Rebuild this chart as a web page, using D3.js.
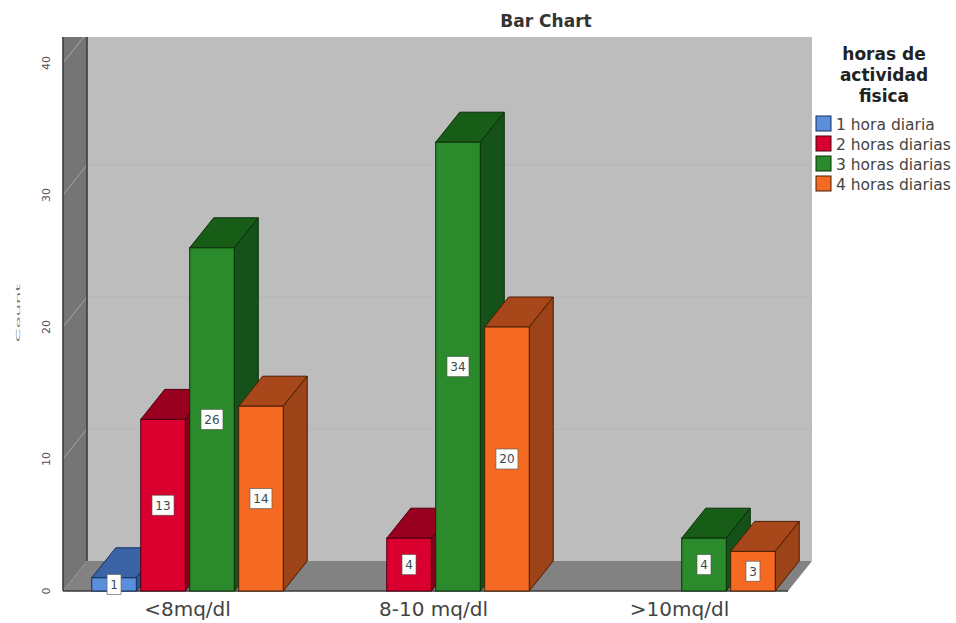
<!DOCTYPE html>
<html>
<head>
<meta charset="utf-8">
<style>
  html, body { margin: 0; padding: 0; background: #fff; }
  svg { display: block; }
</style>
<script src="https://cdn.jsdelivr.net/npm/d3@7/dist/d3.min.js"></script>
</head>
<body>
<svg id="chart" width="956" height="623"></svg>
<script>
// Counts of people per glucose range, split by daily hours of physical activity
const categories = ["<8mq/dl", "8-10 mq/dl", ">10mq/dl"];
const seriesNames = ["1 hora diaria", "2 horas diarias", "3 horas diarias", "4 horas diarias"];
const unoHora = [1, null, null];
const dosHoras = [13, 4, null];
const tresHoras = [26, 34, 4];
const cuatroHoras = [14, 20, 3];
const seriesValues = [unoHora, dosHoras, tresHoras, cuatroHoras];
const yTicks = [0, 10, 20, 30, 40];

const frontColors = ["#5b8fdc", "#d9002f", "#2b8a2b", "#f46a22"];
const topColors = ["#3a64a6", "#99001f", "#175c17", "#a8481a"];
const sideColors = ["#2f5590", "#7f0018", "#14521a", "#9c4318"];
const edgeColors = ["#12305f", "#4a0010", "#0a300a", "#4a1e06"];

// Oblique projection of the 3D box
const depthX = 24, depthY = -30;
const svg = d3.select("#chart");
const font = "'DejaVu Sans', sans-serif";

const groupWidth = 191.5;
const y = d3.scaleLinear().domain([0, 40]).range([591, 63]);
const x0 = d3.scaleBand().domain(categories).range([64.5, 802.5]);
const x1 = d3.scaleBand().domain(seriesNames).range([0, groupWidth]).paddingInner(0.09);

const plotLeft = 63, plotRight = 788, wallTop = 37;
const pts = a => a.map(p => p.join(",")).join(" ");
const wallOutline = pts([[plotLeft, wallTop], [plotLeft + depthX, wallTop], [plotLeft + depthX, y(0) + depthY], [plotLeft, y(0)]]);

svg.append("clipPath").attr("id", "wall-clip").append("polygon").attr("points", wallOutline);

// Back wall
svg.append("rect")
  .attr("x", plotLeft + depthX).attr("y", wallTop)
  .attr("width", plotRight - plotLeft).attr("height", y(0) + depthY - wallTop)
  .attr("fill", "#bdbdbd");

// Left wall
svg.append("polygon").attr("points", wallOutline).attr("fill", "#757575");

// Floor
svg.append("polygon")
  .attr("points", pts([[plotLeft, y(0)], [plotLeft + depthX, y(0) + depthY], [plotRight + depthX, y(0) + depthY], [plotRight, y(0)]]))
  .attr("fill", "#828282");
svg.append("line")
  .attr("x1", plotLeft).attr("x2", plotRight).attr("y1", y(0)).attr("y2", y(0))
  .attr("stroke", "#3a3a3a").attr("stroke-width", 1.5);

// Gridlines run across the back wall and fold down the left wall
const gridTicks = yTicks.filter(t => t > 0);
svg.append("g").selectAll("line").data(gridTicks.filter(t => t < 40)).join("line")
  .attr("x1", plotLeft + depthX).attr("x2", plotRight + depthX)
  .attr("y1", d => y(d) + depthY).attr("y2", d => y(d) + depthY)
  .attr("stroke", "#b5b5b5");
svg.append("g").attr("clip-path", "url(#wall-clip)").selectAll("line").data(gridTicks).join("line")
  .attr("x1", plotLeft).attr("x2", plotLeft + depthX)
  .attr("y1", d => y(d)).attr("y2", d => y(d) + depthY)
  .attr("stroke", "#a6a6a6");

// Wall edges sit above the fold lines
svg.append("g").selectAll("line").data([plotLeft, plotLeft + depthX]).join("line")
  .attr("x1", d => d).attr("x2", d => d)
  .attr("y1", wallTop).attr("y2", d => d === plotLeft ? y(0) : y(0) + depthY)
  .attr("stroke", "#3c3c3c").attr("stroke-width", 1.6);

// Bars as three-faced boxes
const bars = [];
seriesValues.forEach((vals, s) => vals.forEach((v, c) => {
  if (v !== null) bars.push({ s, c, v });
}));
const barX = d => x0(categories[d.c]) + (x0.bandwidth() - groupWidth) / 2 + x1(seriesNames[d.s]);
const w = x1.bandwidth();

// Right-hand series are painted last so they overlap the neighbour's depth faces
const barG = svg.append("g").selectAll("g").data(bars).join("g");
barG.append("polygon")
  .attr("points", d => {
    const a = barX(d), t = y(d.v);
    return pts([[a, t], [a + depthX, t + depthY], [a + w + depthX, t + depthY], [a + w, t]]);
  })
  .attr("fill", d => topColors[d.s]).attr("stroke", d => edgeColors[d.s]);
barG.append("polygon")
  .attr("points", d => {
    const a = barX(d) + w, t = y(d.v), b = y(0);
    return pts([[a, t], [a + depthX, t + depthY], [a + depthX, b + depthY], [a, b]]);
  })
  .attr("fill", d => sideColors[d.s]).attr("stroke", d => edgeColors[d.s]);
barG.append("rect")
  .attr("x", barX).attr("y", d => y(d.v))
  .attr("width", w).attr("height", d => y(0) - y(d.v))
  .attr("fill", d => frontColors[d.s]).attr("stroke", d => edgeColors[d.s]);

// Value labels centred on each bar's front face
const labels = svg.append("g").selectAll("g").data(bars).join("g")
  .attr("transform", d => `translate(${barX(d) + w / 2},${(y(d.v) + y(0)) / 2})`);
labels.append("rect")
  .attr("x", d => d.v < 10 ? -7 : -11).attr("y", -10)
  .attr("width", d => d.v < 10 ? 14 : 22).attr("height", 20)
  .attr("fill", "#fdfdfa").attr("stroke", "#555").attr("stroke-width", 0.6);
labels.append("text")
  .attr("text-anchor", "middle").attr("dy", "0.36em")
  .attr("font-family", font).attr("font-size", 12).attr("fill", "#3a4a55")
  .text(d => d.v);

// Value axis labels, rotated
svg.append("g").selectAll("text").data(yTicks).join("text")
  .attr("transform", d => `translate(50,${y(d)}) rotate(-90)`)
  .attr("text-anchor", "middle")
  .attr("font-family", font).attr("font-size", 11).attr("fill", "#555")
  .text(d => d);

// Value axis title, compressed across its height
svg.append("text")
  .attr("transform", "translate(20,313) rotate(-90) scale(1.8,0.4)")
  .attr("text-anchor", "middle")
  .attr("font-family", font).attr("font-size", 11).attr("fill", "#777")
  .text("Count");

// Category labels
svg.append("g").selectAll("text").data(categories).join("text")
  .attr("x", d => x0(d) + x0.bandwidth() / 2).attr("y", 616)
  .attr("text-anchor", "middle")
  .attr("font-family", font).attr("font-size", 20).attr("fill", "#444")
  .text(d => d);

// Chart title
svg.append("text")
  .attr("x", 546).attr("y", 27).attr("text-anchor", "middle")
  .attr("font-family", font).attr("font-size", 17).attr("font-weight", "bold").attr("fill", "#333")
  .text("Bar Chart");

// Legend
const legendTitle = ["horas de", "actividad", "fisica"];
svg.append("g").selectAll("text").data(legendTitle).join("text")
  .attr("x", 884).attr("y", (d, i) => 60 + i * 21).attr("text-anchor", "middle")
  .attr("font-family", font).attr("font-size", 17).attr("font-weight", "bold").attr("fill", "#222")
  .text(d => d);

const legendRow = d3.scalePoint().domain(seriesNames).range([124, 184]);
const legend = svg.append("g").selectAll("g").data(seriesNames).join("g")
  .attr("transform", d => `translate(816,${legendRow(d)})`);
legend.append("rect")
  .attr("x", 0).attr("y", -8).attr("width", 15).attr("height", 15)
  .attr("fill", (d, i) => frontColors[i]).attr("stroke", (d, i) => edgeColors[i]);
legend.append("text")
  .attr("x", 20).attr("dy", "0.36em")
  .attr("font-family", font).attr("font-size", 15.5).attr("fill", "#444")
  .text(d => d);
</script>
</body>
</html>
